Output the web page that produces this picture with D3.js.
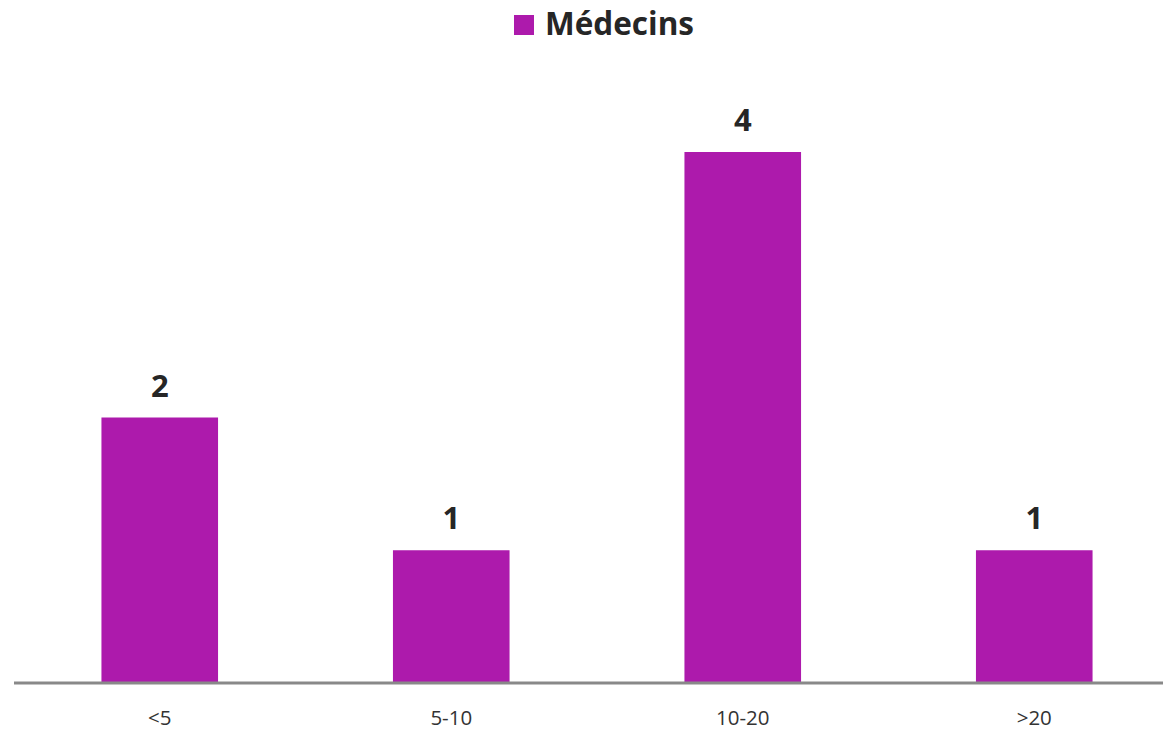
<!DOCTYPE html>
<html>
<head>
<meta charset="utf-8">
<script src="https://cdn.jsdelivr.net/npm/d3@7"></script>
<style>
  html, body { margin: 0; padding: 0; background: #fff; }
  svg { display: block; }
</style>
</head>
<body>
<svg id="chart" width="1163" height="730"></svg>
<script>
// Number of physicians per years-of-practice bracket
const categories = ["<5", "5-10", "10-20", ">20"];
const values = [2, 1, 4, 1];
const seriesName = "Médecins";

const W = 1163, H = 730;
const barColor = "#AD1AAC";
const textColor = "#262626";
const font = "'Open Sans', 'Noto Sans', sans-serif";

const svg = d3.select("#chart");

const x = d3.scaleBand()
  .domain(categories)
  .range([14, 1180])
  .paddingInner(0.6)
  .paddingOuter(0.3);

const y = d3.scaleLinear()
  .domain([0, 4])
  .range([683, 152]);

// bars
svg.append("g").selectAll("rect")
  .data(values)
  .join("rect")
  .attr("x", (d, i) => x(categories[i]))
  .attr("y", d => y(d))
  .attr("width", x.bandwidth())
  .attr("height", d => y(0) - y(d))
  .attr("fill", barColor);

// value labels
svg.append("g").selectAll("text")
  .data(values)
  .join("text")
  .attr("x", (d, i) => x(categories[i]) + x.bandwidth() / 2)
  .attr("y", d => y(d) - 21)
  .attr("text-anchor", "middle")
  .attr("font-family", font)
  .attr("font-weight", "bold")
  .attr("font-size", 31)
  .attr("fill", textColor)
  .text(d => d);

// category axis
const axis = svg.append("g")
  .attr("transform", `translate(0,${y(0)})`)
  .call(d3.axisBottom(x).tickSize(0).tickPadding(0));
axis.select(".domain").remove();
axis.append("line")
  .attr("x1", 14).attr("x2", W)
  .attr("y1", 0).attr("y2", 0)
  .attr("stroke", "#898989")
  .attr("stroke-width", 3);
axis.selectAll(".tick text")
  .attr("y", 42)
  .attr("dy", 0)
  .attr("font-family", font)
  .attr("font-size", 20.5)
  .attr("fill", "#333");

// legend
const legend = svg.append("g");
legend.append("rect")
  .attr("x", 514).attr("y", 15)
  .attr("width", 20).attr("height", 20)
  .attr("fill", barColor);
legend.append("text")
  .attr("x", 545).attr("y", 35)
  .attr("font-family", font)
  .attr("font-weight", "bold")
  .attr("font-size", 31.5)
  .attr("fill", textColor)
  .text(seriesName);
</script>
</body>
</html>
